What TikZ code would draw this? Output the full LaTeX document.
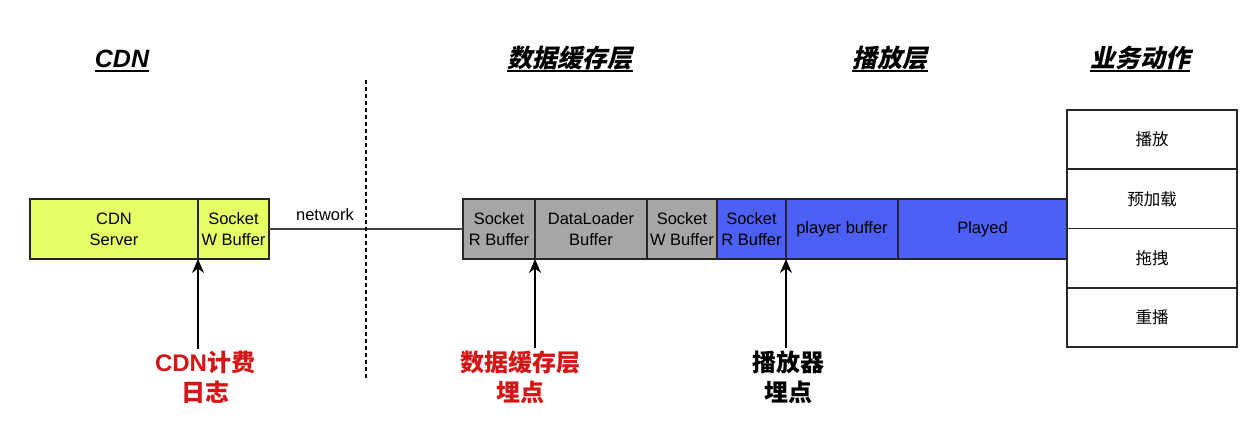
\documentclass[tikz,border=0pt]{standalone}
\usepackage{fontspec}
\setmainfont{Liberation Sans}
\newfontfamily\cjk{Noto Sans CJK SC}
\newfontfamily\cjkslant{Noto Sans CJK SC}[FakeSlant=0.22]
\usetikzlibrary{arrows.meta, positioning}
\definecolor{cdnyellow}{RGB}{230,255,102}
\definecolor{cachegray}{RGB}{166,166,166}
\definecolor{playblue}{RGB}{76,96,245}
\definecolor{markred}{RGB}{212,22,22}

\begin{document}
\begin{tikzpicture}[x=1pt, y=-1pt,
  cell/.style={draw=black!85, line width=1.4pt, outer sep=0pt, inner sep=0pt,
    minimum height=60pt, align=center, font=\fontsize{16.5}{21}\selectfont},
  cdn/.style={cell, fill=cdnyellow},
  cache/.style={cell, fill=cachegray},
  play/.style={cell, fill=playblue},
  action/.style={cell, fill=white, line width=1.7pt, minimum width=170pt, minimum height=59.25pt,
    font=\cjk\fontsize{16.5}{20}\selectfont},
  heading/.style={inner xsep=0pt, inner ysep=3.5pt, text depth=0pt, anchor=base,
    font=\bfseries\itshape\fontsize{25}{28}\selectfont,
    append after command={(\tikzlastnode.south west) edge[line width=2pt] (\tikzlastnode.south east)}},
  cjkheading/.style={heading, font=\cjkslant\bfseries\fontsize{25}{28}\selectfont},
  marker/.style={line width=1.4pt, -{Stealth[length=14pt, width=12pt]}},
  tag/.style={align=center, inner sep=2pt, font=\cjk\bfseries\fontsize{24}{30}\selectfont}
]
\fill[white] (0,0) rectangle (1249,421);
\useasboundingbox (0,0) rectangle (1249,421);

% layer titles
\node[heading] (cdnhead) at (122,67) {CDN};
\node[cjkheading] (cachehead) at (570,67) {数据缓存层};
\node[cjkheading] (playhead) at (890,67) {播放层};
\node[cjkheading] (actionhead) at (1140,67) {业务动作};

% CDN side
\node[cdn, minimum width=168pt, anchor=north west] (cdnsrv) at (30,199) {CDN\\Server};
\node[cdn, minimum width=71pt, right=0pt of cdnsrv] (cdnwbuf) {Socket\\W Buffer};

% client buffers
\node[cache, minimum width=72pt, anchor=north west] (datarbuf) at (463,199) {Socket\\R Buffer};
\node[cache, minimum width=112pt, right=0pt of datarbuf] (loader) {DataLoader\\Buffer};
\node[cache, minimum width=70pt, right=0pt of loader] (datawbuf) {Socket\\W Buffer};
\node[play, minimum width=69pt, right=0pt of datawbuf] (playrbuf) {Socket\\R Buffer};
\node[play, minimum width=112pt, right=0pt of playrbuf] (playbuf) {player buffer};
\node[play, minimum width=169pt, right=0pt of playbuf] (played) {Played};

% business actions
\node[action, anchor=north west] (start) at (1067,110) {播放};
\node[action, below=0pt of start] (preload) {预加载};
\node[action, below=0pt of preload] (seek) {拖拽};
\node[action, below=0pt of seek] (replay) {重播};

% network
\draw[line width=1.2pt, black!75] (cdnwbuf.east) -- (datarbuf.west);
\node[anchor=base, font=\fontsize{16.5}{20}\selectfont] (netlabel) at (325,220) {network};
\coordinate (septop) at (366,80);
\coordinate (sepbot) at (366,378);
\draw[line width=1.2pt, dash pattern=on 4pt off 3pt] (septop) -- (sepbot);

% tracking points
\node[tag, text=markred] (cdnlog) at (205,377) {{\rmfamily CDN}计费\\日志};
\node[tag, text=markred] (cachelog) at (520,377) {数据缓存层\\埋点};
\node[tag] (playlog) at (788,377) {播放器\\埋点};
\draw[marker] (cdnlog.north -| cdnsrv.south east) -- (cdnsrv.south east);
\draw[marker] (cachelog.north -| datarbuf.south east) -- (datarbuf.south east);
\draw[marker] (playlog.north -| playrbuf.south east) -- (playrbuf.south east);
\end{tikzpicture}
\end{document}
